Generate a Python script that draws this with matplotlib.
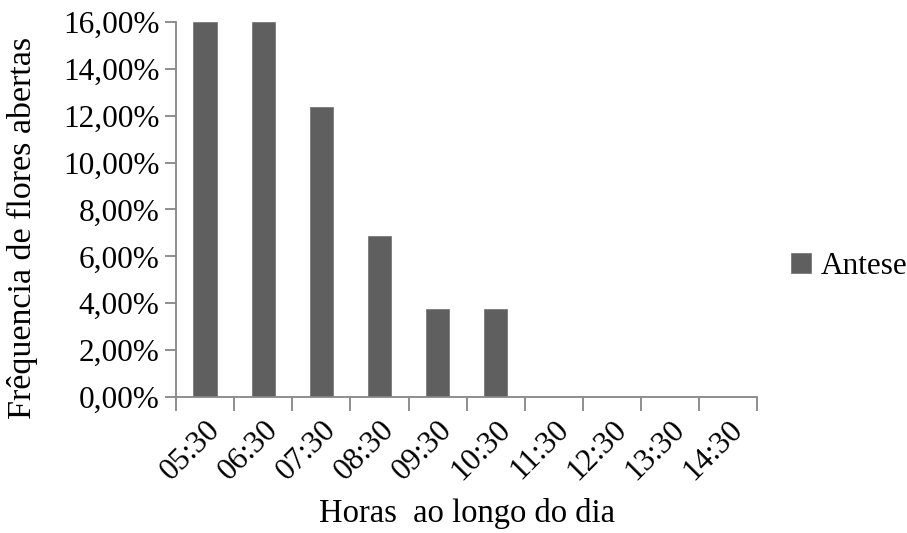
import matplotlib
matplotlib.use("Agg")
import matplotlib.pyplot as plt
from matplotlib.ticker import FixedLocator, FuncFormatter, NullFormatter
from matplotlib.patches import Patch

# Frequency of opened flowers by time of day
hours = ["05:30", "06:30", "07:30", "08:30", "09:30", "10:30",
         "11:30", "12:30", "13:30", "14:30"]
antese = [16.0, 16.0, 12.35, 6.85, 3.75, 3.75, 0.0, 0.0, 0.0, 0.0]
y_ticks = [0, 2, 4, 6, 8, 10, 12, 14, 16]

plt.rcParams["font.family"] = "serif"
plt.rcParams["font.serif"] = ["Liberation Serif", "Times New Roman", "DejaVu Serif"]

bar_color = "#5f5f5f"
axis_color = "#868686"
fs = 22.5

fig = plt.figure(figsize=(9.07, 5.33), dpi=100)
ax = fig.add_axes([0.194, 0.255, 0.641, 0.704])

x = list(range(len(hours)))
ax.bar(x, antese, width=0.4, color=bar_color, edgecolor="#7a7a7a",
       linewidth=0.6, zorder=2)

ax.set_xlim(-0.5, len(hours) - 0.5)
ax.set_ylim(0, 16)

ax.yaxis.set_major_locator(FixedLocator(y_ticks))
ax.yaxis.set_major_formatter(FuncFormatter(lambda v, p: f"{v:.2f}%".replace(".", ",")))

# category boundaries carry tick marks, centres carry the labels
ax.xaxis.set_major_locator(FixedLocator([i - 0.5 for i in range(len(hours) + 1)]))
ax.xaxis.set_major_formatter(NullFormatter())
ax.xaxis.set_minor_locator(FixedLocator(x))
ax.set_xticklabels(hours, minor=True)
ax.tick_params(axis="x", which="minor", length=0, pad=13, labelsize=fs)
ax.tick_params(axis="x", which="major", length=10, width=1.3, color=axis_color)
ax.tick_params(axis="y", length=8, width=1.3, color=axis_color, labelsize=fs, pad=4)
for lbl in ax.get_xticklabels(minor=True):
    lbl.set_rotation(45)
    lbl.set_ha("right")
    lbl.set_va("top")
    lbl.set_rotation_mode("anchor")

for side in ("top", "right"):
    ax.spines[side].set_visible(False)
for side in ("left", "bottom"):
    ax.spines[side].set_color(axis_color)
    ax.spines[side].set_linewidth(1.3)

ax.set_ylabel("Frêquencia de flores abertas", fontsize=24.5)
ax.yaxis.set_label_coords(-0.238, 0.45)
ax.set_xlabel("Horas  ao longo do dia", fontsize=23.5, labelpad=9)

handle = Patch(facecolor=bar_color, edgecolor="#7a7a7a", linewidth=0.6)
fig.legend([handle], ["Antese"], loc="center left",
           bbox_to_anchor=(0.872, 0.5), frameon=False, fontsize=fs,
           handlelength=0.65, handleheight=0.65, handletextpad=0.3,
           borderpad=0, borderaxespad=0)

fig.savefig("out.png", dpi=100)
